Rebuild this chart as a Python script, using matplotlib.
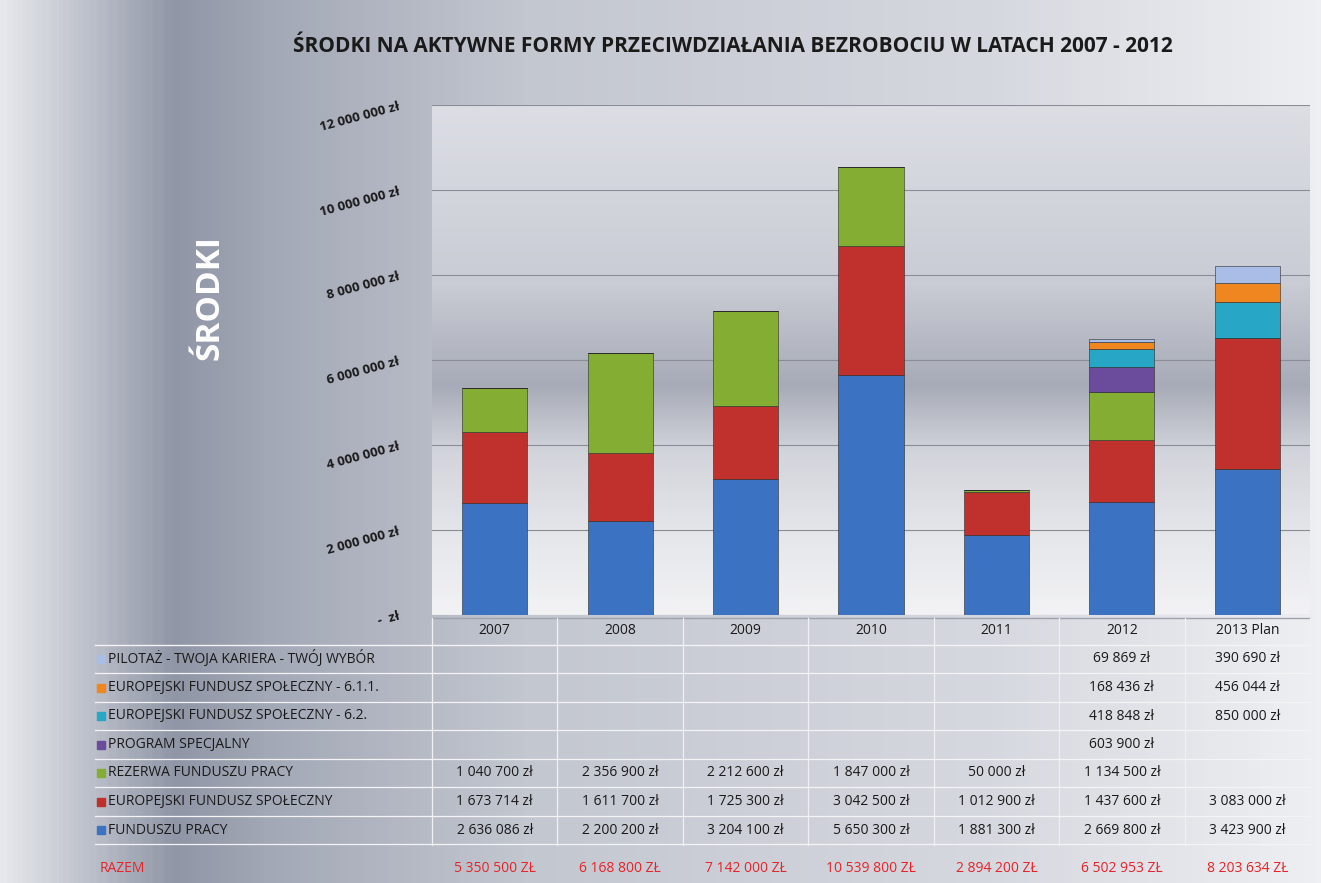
import numpy as np
import matplotlib
matplotlib.use("Agg")
import matplotlib.pyplot as plt
from matplotlib.colors import LinearSegmentedColormap

plt.rcParams['font.family'] = ['Open Sans', 'DejaVu Sans']

years = ['2007', '2008', '2009', '2010', '2011', '2012', '2013 Plan']
series_names = ['FUNDUSZU PRACY',
                'EUROPEJSKI FUNDUSZ SPOŁECZNY',
                'REZERWA FUNDUSZU PRACY',
                'PROGRAM SPECJALNY',
                'EUROPEJSKI FUNDUSZ SPOŁECZNY - 6.2.',
                'EUROPEJSKI FUNDUSZ SPOŁECZNY - 6.1.1.',
                'PILOTAŻ - TWOJA KARIERA - TWÓJ WYBÓR']
fundusz_pracy = [2636086, 2200200, 3204100, 5650300, 1881300, 2669800, 3423900]
efs = [1673714, 1611700, 1725300, 3042500, 1012900, 1437600, 3083000]
rezerwa = [1040700, 2356900, 2212600, 1847000, 50000, 1134500, 0]
program_spec = [0, 0, 0, 0, 0, 603900, 0]
efs_62 = [0, 0, 0, 0, 0, 418848, 850000]
efs_611 = [0, 0, 0, 0, 0, 168436, 456044]
pilotaz = [0, 0, 0, 0, 0, 69869, 390690]
razem = [5350500, 6168800, 7142000, 10539800, 2894200, 6502953, 8203634]

colors = ['#3b72c2', '#c0302c', '#83ad33', '#6b4b9c', '#27a6c6', '#f0861f', '#a9bde6']
series = [fundusz_pracy, efs, rezerwa, program_spec, efs_62, efs_611, pilotaz]

W, H = 1321, 883
fig = plt.figure(figsize=(W / 100, H / 100), dpi=100)

# background gradient
bg = fig.add_axes([0, 0, 1, 1])
bg.set_axis_off()
stops = [(0.0, '#e6e7ec'), (0.07, '#b9bdc8'), (0.13, '#9096a6'), (0.2, '#a3a8b6'),
         (0.4, '#c3c7d0'), (0.75, '#d6d8df'), (1.0, '#eeeff2')]
cm = LinearSegmentedColormap.from_list('bgx', stops)
grad = np.tile(np.linspace(0, 1, 400), (50, 1))
bg.imshow(grad, cmap=cm, aspect='auto', extent=[0, 1, 0, 1])
bg.set_xlim(0, 1)
bg.set_ylim(0, 1)


def fx(px):
    return px / W


def fy(py):
    return 1 - py / H


fig.text(fx(733), fy(46), 'ŚRODKI NA AKTYWNE FORMY PRZECIWDZIAŁANIA BEZROBOCIU W LATACH 2007 - 2012',
         ha='center', va='center', fontsize=15, fontweight='bold', color='#1a1a1a')
fig.text(fx(210), fy(298), 'ŚRODKI', rotation=90, ha='center', va='center',
         fontsize=24, fontweight='bold', color='white')

# plot area
left, right, top, bottom = 432, 1310, 105, 615
ax = fig.add_axes([fx(left), fy(bottom), fx(right - left), (bottom - top) / H])
inner = LinearSegmentedColormap.from_list('bgy', [(0, '#dcdee4'), (0.35, '#c9ccd4'), (0.55, '#a7abb7'),
                                                 (0.68, '#d2d4db'), (0.85, '#e6e7eb'), (1, '#f2f2f4')])
ax.imshow(np.tile(np.linspace(0, 1, 300), (20, 1)).T, cmap=inner, aspect='auto',
          extent=[-0.5, 6.5, 0, 12000000], zorder=0, origin='upper')

x = np.arange(len(years))
base = np.zeros(len(years))
for vals, col in zip(series, colors):
    v = np.array(vals, dtype=float)
    ax.bar(x, v, bottom=base, width=0.52, color=col, edgecolor='#2a2a2a',
           linewidth=0.4, zorder=3)
    base += v

ax.set_xlim(-0.5, 6.5)
ax.set_ylim(0, 12000000)
yt = np.arange(0, 12000001, 2000000)
ax.set_yticks(yt)
ax.set_yticklabels(['-  zł' if t == 0 else f'{int(t):,} zł'.replace(',', ' ') for t in yt],
                   rotation=15, fontsize=9.5, fontweight='bold', color='#1a1a1a')
ax.tick_params(axis='y', length=0, pad=22)
ax.set_xticks([])
ax.grid(axis='y', color='#8a8d96', linewidth=0.8, zorder=1)
for s in ax.spines.values():
    s.set_visible(False)

# data table
col_edges = [left + i * (right - left) / 7 for i in range(8)]
header_y = 631
row_h = 28.5
first_row = 659
fs = 10
bg.plot([fx(left), fx(right)], [fy(618), fy(618)], color='#9ea2ad', lw=1, transform=bg.transAxes)
bg.plot([fx(95), fx(right)], [fy(645), fy(645)], color='#f4f4f6', lw=1, transform=bg.transAxes)
for ce in col_edges:
    bg.plot([fx(ce), fx(ce)], [fy(618), fy(845)], color='#f0f0f3', lw=0.9, transform=bg.transAxes)
for i, yr in enumerate(years):
    cx = (col_edges[i] + col_edges[i + 1]) / 2
    fig.text(fx(cx), fy(header_y), yr, ha='center', va='center', fontsize=fs, color='#1a1a1a')

table_rows = list(zip(series_names, series, colors))[::-1]
for r, (name, vals, col) in enumerate(table_rows):
    ry = first_row + r * row_h
    bg.plot([fx(95), fx(right)], [fy(ry + row_h / 2), fy(ry + row_h / 2)],
            color='#f4f4f6', lw=0.9, transform=bg.transAxes)
    bg.add_patch(plt.Rectangle((fx(97), fy(ry + 4)), fx(8), 8 / H, color=col,
                               transform=bg.transAxes))
    fig.text(fx(108), fy(ry), name, ha='left', va='center', fontsize=fs, color='#1a1a1a')
    for i, v in enumerate(vals):
        if v:
            cx = (col_edges[i] + col_edges[i + 1]) / 2
            fig.text(fx(cx), fy(ry), f'{v:,} zł'.replace(',', ' '), ha='center', va='center',
                     fontsize=fs, color='#1a1a1a')

fig.text(fx(100), fy(868), 'RAZEM', ha='left', va='center', fontsize=fs, color='#e8232a')
for i, v in enumerate(razem):
    cx = (col_edges[i] + col_edges[i + 1]) / 2
    fig.text(fx(cx), fy(868), f'{v:,} ZŁ'.replace(',', ' '), ha='center', va='center',
             fontsize=fs, color='#e8232a')

fig.savefig('out.png', dpi=100)
